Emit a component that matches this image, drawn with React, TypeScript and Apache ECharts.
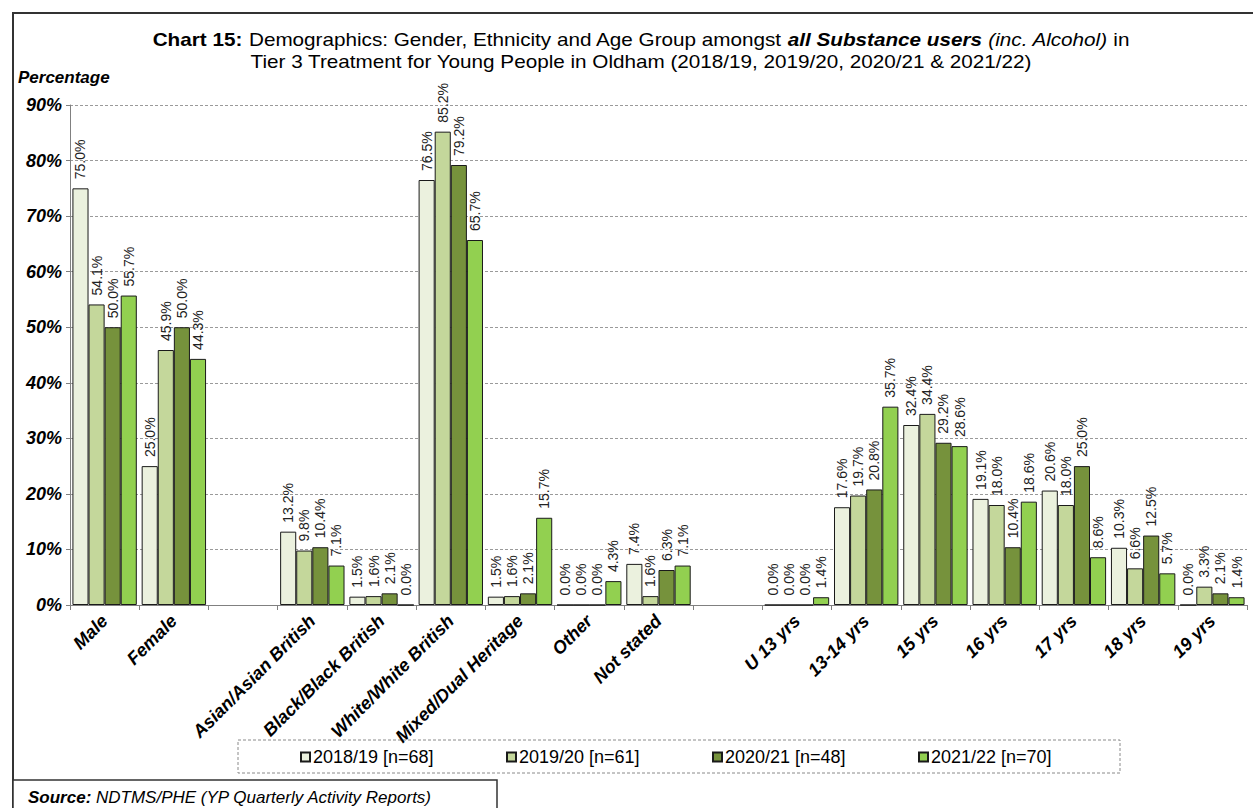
import React, { useEffect, useRef } from "react";
import * as echarts from "echarts";

// Categories: gender, ethnicity and age groups, separated by empty spacer slots
const categories = [
  "Male",
  "Female",
  " ",
  "Asian/Asian British",
  "Black/Black British",
  "White/White British",
  "Mixed/Dual Heritage",
  "Other",
  "Not stated",
  "  ",
  "U 13 yrs",
  "13-14 yrs",
  "15 yrs",
  "16 yrs",
  "17 yrs",
  "18 yrs",
  "19 yrs",
];

const seriesNames = [
  "2018/19 [n=68]",
  "2019/20 [n=61]",
  "2020/21 [n=48]",
  "2021/22 [n=70]",
];

const values1819 = [75.0, 25.0, null, 13.2, 1.5, 76.5, 1.5, 0.0, 7.4, null, 0.0, 17.6, 32.4, 19.1, 20.6, 10.3, 0.0];
const values1920 = [54.1, 45.9, null, 9.8, 1.6, 85.2, 1.6, 0.0, 1.6, null, 0.0, 19.7, 34.4, 18.0, 18.0, 6.6, 3.3];
const values2021 = [50.0, 50.0, null, 10.4, 2.1, 79.2, 2.1, 0.0, 6.3, null, 0.0, 20.8, 29.2, 10.4, 25.0, 12.5, 2.1];
const values2122 = [55.7, 44.3, null, 7.1, 0.0, 65.7, 15.7, 4.3, 7.1, null, 1.4, 35.7, 28.6, 18.6, 8.6, 5.7, 1.4];

const yTicks = { min: 0, max: 90, interval: 10 };

const colors = ["#EBF1DE", "#C4D79B", "#76923C", "#92D050"];
const legendLeft = [300, 506, 712, 918];

const FONT = "'Liberation Sans', Arial, sans-serif";

export default function App() {
  const ref = useRef<HTMLDivElement>(null);

  useEffect(() => {
    if (!ref.current) return;
    const chart = echarts.init(ref.current, undefined, { renderer: "svg" });
    const allValues = [values1819, values1920, values2021, values2122];

    const option: any = {
      animation: false,
      backgroundColor: "#ffffff",
      textStyle: { fontFamily: FONT },
      grid: { left: 70, right: 6, top: 105, bottom: 203, containLabel: false },
      xAxis: {
        type: "category",
        data: categories,
        axisLine: { lineStyle: { color: "#808080", width: 1 } },
        axisTick: { show: true, length: 5, lineStyle: { color: "#808080" } },
        axisLabel: {
          interval: 0,
          rotate: 45,
          margin: 13,
          fontSize: 18,
          fontWeight: "bold",
          fontStyle: "italic",
          color: "#000",
          fontFamily: FONT,
        },
      },
      yAxis: {
        type: "value",
        min: yTicks.min,
        max: yTicks.max,
        interval: yTicks.interval,
        axisLine: { show: true, lineStyle: { color: "#808080", width: 1 } },
        axisTick: { show: true, length: 4, lineStyle: { color: "#808080" } },
        axisLabel: {
          formatter: "{value}%",
          fontSize: 18,
          fontWeight: "bold",
          fontStyle: "italic",
          color: "#000",
          margin: 8,
          fontFamily: FONT,
        },
        splitLine: { lineStyle: { color: "#9a9a9a", type: [3, 2], width: 1 } },
      },
      legend: seriesNames.map((name, i) => ({
        data: [name],
        left: legendLeft[i],
        top: 748,
        padding: 0,
        icon: "rect",
        itemWidth: 9,
        itemHeight: 9,
        itemGap: 0,
        selectedMode: false,
        textStyle: { fontSize: 18, color: "#000", fontFamily: FONT, padding: [0, 0, 0, -2] },
      })),
      series: seriesNames.map((name, i) => ({
        name,
        type: "bar",
        data: allValues[i],
        barGap: "0%",
        barCategoryGap: "7%",
        itemStyle: { color: colors[i], borderColor: "#1a1a1a", borderWidth: 1 },
        label: {
          show: true,
          position: "top",
          rotate: 90,
          align: "left",
          verticalAlign: "middle",
          distance: 9,
          fontSize: 14,
          color: "#222",
          fontFamily: FONT,
          formatter: (p: any) => (p.value == null ? "" : Number(p.value).toFixed(1) + "%"),
        },
      })),
      graphic: [
        {
          type: "rect",
          silent: true,
          z: -1,
          shape: { x: 13, y: 13, width: 1400, height: 900 },
          style: { fill: "none", stroke: "#333", lineWidth: 2 },
        },
        {
          type: "text",
          x: 641,
          y: 29,
          scaleX: 1.15,
          style: {
            text:
              "{b|Chart 15:} Demographics: Gender, Ethnicity and Age Group amongst {bi|all Substance users} {i|(inc. Alcohol)} in\nTier 3 Treatment for Young People in Oldham (2018/19, 2019/20, 2020/21 & 2021/22)",
            fontSize: 18,
            fontFamily: FONT,
            fill: "#000",
            align: "center",
            verticalAlign: "top",
            lineHeight: 22,
            rich: {
              b: { fontWeight: "bold", fontSize: 18, fontFamily: FONT, lineHeight: 22 },
              bi: { fontWeight: "bold", fontStyle: "italic", fontSize: 18, fontFamily: FONT, lineHeight: 22 },
              i: { fontStyle: "italic", fontSize: 18, fontFamily: FONT, lineHeight: 22 },
            },
          },
        },
        {
          type: "text",
          x: 18,
          y: 77,
          style: {
            text: "Percentage",
            fontSize: 17,
            fontWeight: "bold",
            fontStyle: "italic",
            fontFamily: FONT,
            fill: "#000",
            verticalAlign: "middle",
          },
        },
        {
          type: "rect",
          silent: true,
          shape: { x: 238, y: 740, width: 882, height: 33 },
          style: { fill: "#fff", stroke: "#8a8a8a", lineWidth: 1, lineDash: [3, 2] },
        },
        {
          type: "rect",
          silent: true,
          shape: { x: 13, y: 780, width: 484, height: 60 },
          style: { fill: "#fff", stroke: "#333", lineWidth: 1.5 },
        },
        {
          type: "text",
          x: 28,
          y: 797,
          style: {
            text: "{b|Source:} NDTMS/PHE (YP Quarterly Activity Reports)",
            fontSize: 17,
            fontStyle: "italic",
            fontFamily: FONT,
            fill: "#000",
            verticalAlign: "middle",
            rich: {
              b: { fontWeight: "bold", fontStyle: "italic", fontSize: 17, fontFamily: FONT },
            },
          },
        },
      ],
    };

    chart.setOption(option);
    return () => chart.dispose();
  }, []);

  return (
    <div
      ref={ref}
      style={{ position: "fixed", left: 0, top: 0, width: 1253, height: 808, background: "#fff" }}
    />
  );
}
